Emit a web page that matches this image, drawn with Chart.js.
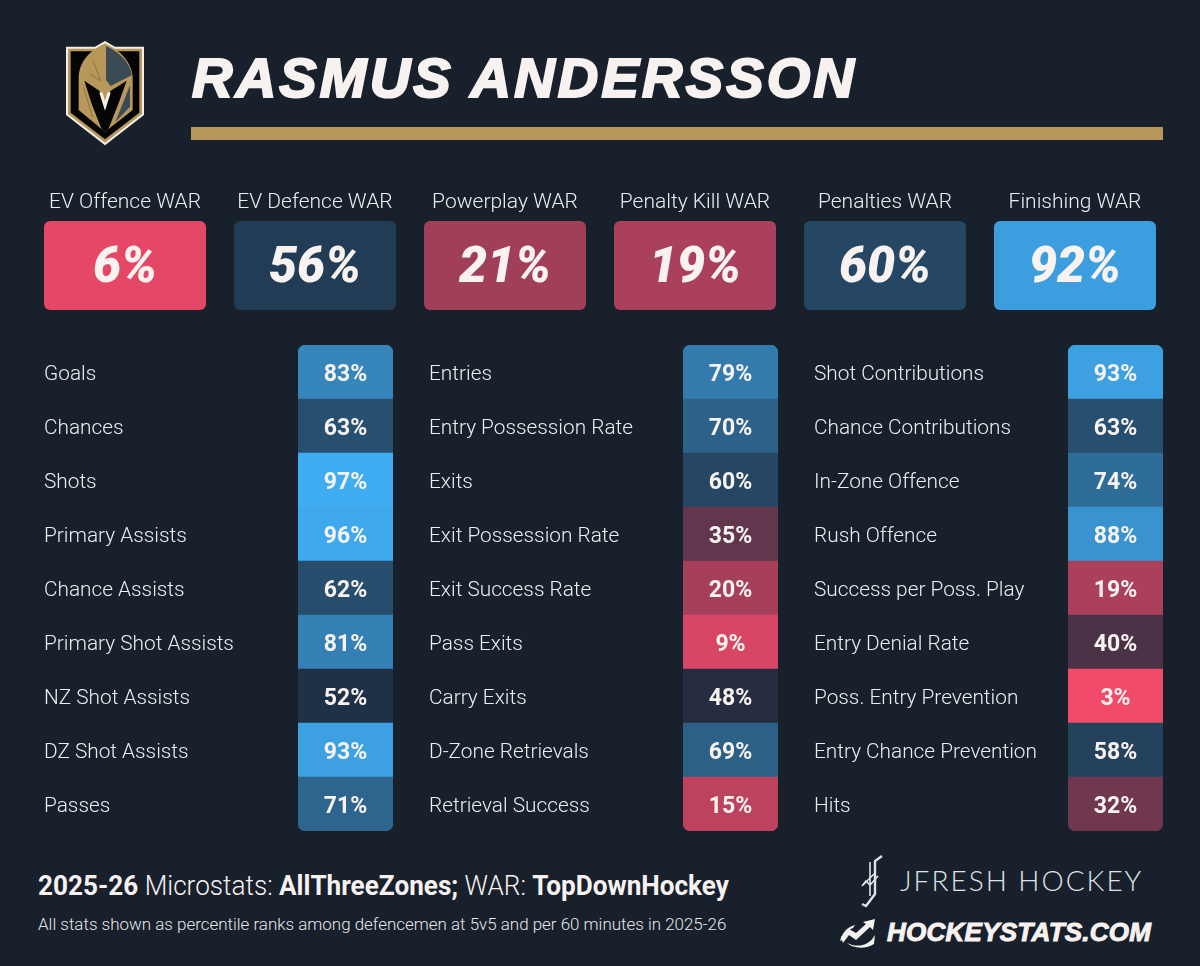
<!DOCTYPE html>
<html lang="en">

<head>
  <meta charset="UTF-8">
  <title>Rasmus Andersson</title>
  <script src="https://cdn.jsdelivr.net/npm/chart.js"></script>
  <style>
    html, body { margin: 0; padding: 0; }
    body { width: 1200px; height: 966px; background: #17202b; overflow: hidden; position: relative; font-family: Roboto, sans-serif; color: #f7f2f0; }
    .box { position: absolute; }
    .box canvas { display: block; }
    #titulo { left: 192px; top: 45px; font: italic 700 56px "Liberation Sans", sans-serif; letter-spacing: 3.2px; -webkit-text-stroke: 2.2px #f8f2f0; white-space: nowrap; }
    #barra { left: 191px; top: 127px; width: 972px; height: 13px; background: #b8975a; }
    #fonte { left: 38px; top: 870px; font-size: 27px; font-weight: 300; white-space: nowrap; transform: scaleX(0.968); transform-origin: left top; }
    #fonte b { font-weight: 700; }
    #nota { left: 38px; top: 914px; font-size: 16.95px; font-weight: 300; color: #e6e7e9; white-space: nowrap; }
    #jfresh { left: 900px; top: 863px; font: 300 28px Lato, sans-serif; letter-spacing: 2px; color: #dfe4e8; white-space: nowrap; }
    #hstats { left: 887px; top: 917px; font: italic 700 26px "Liberation Sans", sans-serif; letter-spacing: 0.25px; -webkit-text-stroke: 1px #f8f2f0; white-space: nowrap; }
  </style>
</head>

<body>
  <svg class="box" style="left:50px;top:30px" width="110" height="125" viewBox="0 0 330 375">
    <path d="M48 50H135L165 33L195 50H282V255L165 346L48 255Z" fill="#f4efe8" />
    <path d="M54 56H137L165 40L193 56H276V252L165 338L54 252Z" fill="#b8975a" />
    <path d="M62 64H139L165 50L191 64H268V248L165 328L62 248Z" fill="#050505" />
    <path d="M165 42C120 60 86 95 86 145V240L158 300L165 305L172 300L248 240V145C246 95 210 60 165 42Z" fill="#b8975a" />
    <path d="M168 48C208 66 242 100 245 136L182 168L168 150Z" fill="#3c4a56" />
    <path d="M103 152L148 182L165 222L182 182L230 152L205 222L175 298L165 305L155 298L125 222Z" fill="#050505" />
    <path d="M148 188L165 242L182 188L173 186L165 212L157 186Z" fill="#f4efe8" />
    <path d="M240 166V230L196 276Z" fill="#3c4a56" />
    <path d="M128 90L152 152L118 132" fill="none" stroke="#7a6238" stroke-width="2" />
    <path d="M100 170L128 262" fill="none" stroke="#7a6238" stroke-width="2" />
  </svg>
  <div class="box" id="titulo">RASMUS ANDERSSON</div>
  <div class="box" id="barra"></div>

  <div class="box" style="left:30px;top:180px"><canvas id="chartWar" width="1140" height="130"></canvas></div>
  <div class="box" style="left:44px;top:345px"><canvas id="chartCol1" width="349" height="486"></canvas></div>
  <div class="box" style="left:429px;top:345px"><canvas id="chartCol2" width="349" height="486"></canvas></div>
  <div class="box" style="left:814px;top:345px"><canvas id="chartCol3" width="349" height="486"></canvas></div>

  <div class="box" id="fonte"><b>2025-26</b> Microstats: <b>AllThreeZones;</b> WAR: <b>TopDownHockey</b></div>
  <div class="box" id="nota">All stats shown as percentile ranks among defencemen at 5v5 and per 60 minutes in 2025-26</div>

  <svg class="box" style="left:858px;top:854px" width="30" height="58" viewBox="0 0 30 58" fill="none" stroke="#dfe4e8" stroke-width="1.6">
    <path d="M24 2L17 7V40L8 52L4 50" stroke-width="2.4" />
    <path d="M12 8V42M16 20L4 32M4 32L8 27L12 31L20 22" />
  </svg>
  <div class="box" id="jfresh">JFRESH HOCKEY</div>
  <svg class="box" style="left:839px;top:917px" width="40" height="32" viewBox="0 0 40 32" fill="#f4f2f0">
    <path d="M2 20L10 12L17 16L27 7L24 5L36 2L34 13L31 10L17 23L10 18L4 26Z" />
    <path d="M1 24C3 16 8 10 16 8L14 11C9 13 6 17 5 22ZM8 26C18 31 30 29 36 18L35 27C28 32 14 32 8 26Z" />
  </svg>
  <div class="box" id="hstats">HOCKEYSTATS.COM</div>

  <script>
    // WAR no topo
    const warLabels = ["EV Offence WAR", "EV Defence WAR", "Powerplay WAR", "Penalty Kill WAR", "Penalties WAR", "Finishing WAR"];
    const warValues = [6, 56, 21, 19, 60, 92];

    // tres colunas de microstats
    const col1Labels = ["Goals", "Chances", "Shots", "Primary Assists", "Chance Assists", "Primary Shot Assists", "NZ Shot Assists", "DZ Shot Assists", "Passes"];
    const col1Values = [83, 63, 97, 96, 62, 81, 52, 93, 71];

    const col2Labels = ["Entries", "Entry Possession Rate", "Exits", "Exit Possession Rate", "Exit Success Rate", "Pass Exits", "Carry Exits", "D-Zone Retrievals", "Retrieval Success"];
    const col2Values = [79, 70, 60, 35, 20, 9, 48, 69, 15];

    const col3Labels = ["Shot Contributions", "Chance Contributions", "In-Zone Offence", "Rush Offence", "Success per Poss. Play", "Entry Denial Rate", "Poss. Entry Prevention", "Entry Chance Prevention", "Hits"];
    const col3Values = [93, 63, 74, 88, 19, 40, 3, 58, 32];

    // cor do percentil: vermelho -> escuro -> azul
    function corPercentil(v) {
      const baixo = [255, 76, 108], meio = [30, 44, 62], alto = [66, 180, 252];
      const ini = v < 50 ? baixo : meio;
      const fim = v < 50 ? meio : alto;
      const t = v < 50 ? v / 50 : (v - 50) / 50;
      const c = ini.map((x, i) => Math.round(x + (fim[i] - x) * t));
      return `rgb(${c[0]},${c[1]},${c[2]})`;
    }

    // escreve o percentil no meio de cada celula
    const rotulos = {
      id: 'rotulos',
      afterDatasetsDraw(chart, args, opts) {
        const ctx = chart.ctx;
        const meta = chart.getDatasetMeta(0);
        ctx.save();
        ctx.textAlign = 'center';
        ctx.textBaseline = 'middle';
        ctx.fillStyle = '#f8f3f1';
        ctx.font = opts.font;
        meta.data.forEach((bar, i) => {
          const p = bar.getCenterPoint();
          ctx.fillText(opts.values[i] + '%', p.x, p.y + opts.dy);
        });
        ctx.restore();
      }
    };

    function graficoWar() {
      new Chart(document.getElementById("chartWar"), {
        type: 'bar',
        plugins: [rotulos],
        data: {
          labels: warLabels,
          datasets: [{
            data: warValues.map(() => 100),
            backgroundColor: warValues.map(corPercentil),
            borderRadius: 6,
            borderSkipped: false,
            barPercentage: 162 / 190,
            categoryPercentage: 1
          }]
        },
        options: {
          responsive: false,
          animation: false,
          layout: { padding: 0 },
          plugins: {
            legend: { display: false },
            tooltip: { enabled: false },
            rotulos: { values: warValues, font: 'italic 900 50px Roboto', dy: 4 }
          },
          scales: {
            x: {
              position: 'top',
              grid: { display: false, drawTicks: false },
              border: { display: false },
              afterFit(scale) { scale.height = 41; },
              ticks: { color: '#eceef0', font: { family: 'Roboto', size: 21, weight: '300' }, padding: 6, maxRotation: 0, autoSkip: false }
            },
            y: { display: false, min: 0, max: 100 }
          }
        }
      });
    }

    function graficoColuna(id, labels, values) {
      new Chart(document.getElementById(id), {
        type: 'bar',
        plugins: [rotulos],
        data: {
          labels: labels,
          datasets: [{
            data: values.map(() => 100),
            backgroundColor: values.map(corPercentil),
            // so as pontas da coluna sao arredondadas
            borderRadius: (ctx) => {
              const r = { topLeft: 0, topRight: 0, bottomLeft: 0, bottomRight: 0 };
              if (ctx.dataIndex === 0) { r.topLeft = 8; r.topRight = 8; }
              if (ctx.dataIndex === labels.length - 1) { r.bottomLeft = 8; r.bottomRight = 8; }
              return r;
            },
            borderSkipped: false,
            barPercentage: 1,
            categoryPercentage: 1
          }]
        },
        options: {
          indexAxis: 'y',
          responsive: false,
          animation: false,
          layout: { padding: 0 },
          plugins: {
            legend: { display: false },
            tooltip: { enabled: false },
            rotulos: { values: values, font: '700 23px Roboto', dy: 3 }
          },
          scales: {
            x: { display: false, min: 0, max: 100 },
            y: {
              grid: { display: false, drawTicks: false },
              border: { display: false },
              afterFit(scale) { scale.width = 254; scale.paddingTop = 0; scale.paddingBottom = 0; },
              ticks: {
                color: '#eceef0',
                // linha vazia antes do texto desce o rotulo 3px
                callback(v) { return ['', this.getLabelForValue(v)]; },
                font: { family: 'Roboto', size: 20.8, weight: '300', lineHeight: '6px' },
                padding: 0,
                crossAlign: 'far',
                autoSkip: false
              }
            }
          }
        }
      });
    }

    graficoWar();
    graficoColuna("chartCol1", col1Labels, col1Values);
    graficoColuna("chartCol2", col2Labels, col2Values);
    graficoColuna("chartCol3", col3Labels, col3Values);
  </script>
</body>

</html>
